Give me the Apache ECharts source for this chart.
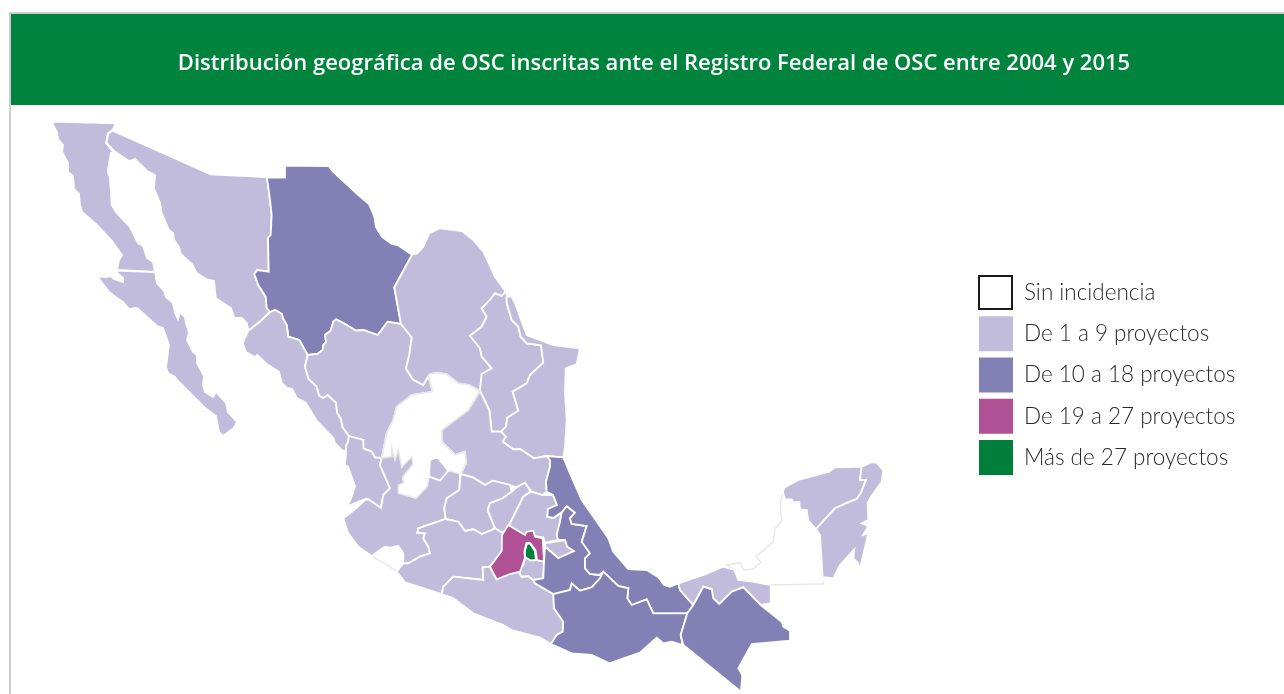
<!DOCTYPE html>
<html>
<head>
<meta charset="utf-8">
<style>
  html, body { margin: 0; padding: 0; background: #fff; }
  #mapa { width: 1284px; height: 694px; }
</style>
<script src="https://cdn.jsdelivr.net/npm/echarts@6/dist/echarts.min.js"></script>
</head>
<body>
<div id="mapa"></div>
<script>
const titleText = 'Distribución geográfica de OSC inscritas ante el Registro Federal de OSC entre 2004 y 2015'

const legendLabels = ['Sin incidencia', 'De 1 a 9 proyectos', 'De 10 a 18 proyectos', 'De 19 a 27 proyectos', 'Más de 27 proyectos']
const legendColors = ['#ffffff', '#c1bcdc', '#8380b6', '#b05196', '#007f3b']

// nivel = posicion en la leyenda. el orden pinta de abajo hacia arriba
const stateNames = [
  'Campeche', 'Colima', 'Baja California', 'Baja California Sur', 'Sonora', 'Chihuahua', 'Sinaloa',
  'Durango', 'Coahuila', 'Nuevo León', 'Tamaulipas', 'San Luis Potosí', 'Nayarit', 'Jalisco', 'Zacatecas', 'Aguascalientes',
  'Guanajuato', 'Querétaro', 'Hidalgo', 'Michoacán', 'Guerrero', 'Morelos', 'Tlaxcala', 'Puebla', 'Veracruz',
  'Oaxaca', 'Tabasco', 'Chiapas', 'Yucatán', 'Quintana Roo', 'Estado de México', 'Ciudad de México'
]
const stateLevels = [0, 0, 1, 1, 1, 2, 1, 1, 1, 1, 1, 1, 1, 1, 0, 1, 1, 1, 1, 1, 1, 1, 1, 2, 2, 2, 1, 2, 1, 1, 3, 4]

// contornos de cada estado, en pixeles de la imagen
const stateShapes = [
  '782.7,491.7 780,506.7 781.7,520.7 775,529 773.3,541.7 756,556.7 760.7,562.3 753.3,569 744,570 740,562.7 726.7,565 734.3,570 738.3,580 753.3,581.7 770.7,585 823.3,584 823.3,580 822.3,573.3 820,535 816,529 808.3,520.7 806.7,510 800,509.3 799.3,501.7 793.3,502.7 791.7,499.3 785,499.3',
  '371.7,556 385,546.7 390,547.7 398.3,546 403.3,553.3 403.3,563.3 396.7,571.7 390,566.7',
  '52.7,121.7 116,123.3 112.7,130 108,133 106,143 114,153 111,153 107.7,171.7 110,178 111.7,205 116.7,213 130,227 138,243 143,246 147,258 153,262 155,272 117,270 119,260 122,255 112,241 97,225 82,212 80,205 79,194 74,189 73,176 68,172 68,163 62,152 63,145 58,139 57,132 53,125',
  '155,272 157,283 164,291 166,297 173,303 175,313 178,319 180,312 185,317 186,323 189,333 187,340 193,352 197,355 197,363 204,376 203,385 205,392 213,397 216,392 226,403 228,412 237,422 234,428 223,436 219,432 216,416 205,408 177,380 175,377 168,373 166,367 169,345 163,328 157,326 137,308 129,309 123,302 117,298 109,292 97,276 105,277 111,276 114,279 123,282 123,278 117,273 117,270.7',
  '112.7,130.7 210.7,174.3 266.7,177 267.7,182.7 270,200 271.7,215 270.7,235 268,238 268.7,271.7 257.3,270 254.3,274 258.3,285 265.7,296.7 266.7,308 270,312 260,321.7 248.3,330.7 246.7,323 241.7,318 234.3,318 231,308 223,303 215.7,298 214,281 206,279 196.7,273 192,264 180.7,254 179,247 174,240 173,233 169,230 161.7,213 160,203 154,188 155,175 146.7,170.7 135,159 129,161 115,151.7 106.7,143 108,134',
  '285,165.7 328.7,166 333,171.7 358.3,195 369,204 374.3,216.7 376,227 382,237 391.7,244 397.7,245 412,254.7 394.3,287.3 401,324 387.7,321.7 377.7,335 363.3,330 356,330.7 345,324 336,319.3 333.3,321.7 330.7,330.7 325,335 326,341.7 323.3,345 322.7,350 317.3,354 307.7,355 299.3,340 288.3,336.7 286.7,325 282.7,318 282,314 275,310 270,312 266.7,308 265.7,296.7 258.3,285 254.3,274 257.3,270 268.7,271.7 268,238 270.7,235 271.7,215 270,200 267.7,182.7 266.7,177.7 285,177.7',
  '270,312 275,310 282,314 282.7,318 286.7,325 288.3,336.7 299.3,340 307.7,355 305,366.7 308.7,379 316.7,386.7 319.3,395.7 323.3,398 327.7,395 336,402.7 337.3,413 341,419 342.7,427.3 349,436 348,442 346,446 346.7,452 341.7,450 335,443 333.3,438 316.7,420.7 305.7,402.7 296.7,398 292.3,389 287.3,388 281.7,383 279,371.7 266.7,364 257.3,355 255,357 246,352 242.7,343 248.3,330.7 260,321.7',
  '307.7,355 317.3,354 322.7,350 323.3,345 326,341.7 325,335 330.7,330.7 333.3,321.7 336,319.3 345,324 356,330.7 363.3,330 377.7,335 387.7,321.7 401,324 411.7,337.3 409.3,355 406,368.3 412.7,379.3 423.3,385 428.3,376 432.7,391.7 411.7,395 396.7,406.7 393.3,420 386.7,433.3 381.7,458 375,457.3 371.7,451.7 363.3,448.3 363.3,440 349,436 342.7,427.3 341,419 337.3,413 336,402.7 327.7,395 323.3,398 319.3,395.7 316.7,386.7 308.7,379 305,366.7',
  '412,254.7 417.3,253.3 423.3,246.7 429.3,233.3 440,228.3 461.7,231 473.3,240 483.3,251.7 495,276.7 505.7,291.7 501.7,296 495,293.3 490,300 481.7,308.3 486.7,316.7 481.7,326.7 470,335.7 480,348.3 481.7,356.7 491.7,368.3 481.7,374 480,391 469.3,385 458.3,383.3 446.7,374.3 436.7,372.7 430,374.3 428.3,376 423.3,385 412.7,379.3 406,368.3 409.3,355 411.7,337.3 401,324 394.3,287.3',
  '505.7,291.7 506.7,294 506.7,303 511.7,320 518.3,326.7 520.7,336.7 526.7,343.3 541,345.3 543.3,362.7 530,375 526.7,383.3 512.7,391.7 518.3,410.7 507.3,417.7 506,426.7 501,431.7 491.7,431.7 489.3,410 480,391 481.7,374 491.7,368.3 481.7,356.7 480,348.3 470,335.7 481.7,326.7 486.7,316.7 481.7,308.3 490,300 495,293.3 501.7,296',
  '506.7,296.7 511.7,296.7 515,303.3 526.7,335 553.3,345 580,348.3 576.7,364 565.7,368.3 565,393.3 566.7,420 565,446.7 563.3,457.3 546.7,456 534,458.3 520,449 513.3,449.3 502.7,441.7 505.7,436.7 501,431.7 506,426.7 507.3,417.7 518.3,410.7 512.7,391.7 526.7,383.3 530,375 543.3,362.7 541,345.3 526.7,343.3 520.7,336.7 518.3,326.7 511.7,320 506.7,303',
  '480,391 489.3,410 491.7,431.7 501,431.7 505.7,436.7 502.7,441.7 513.3,449.3 520,449 534,458.3 546.7,456 550,460 550,466.7 546,481.7 546.7,491.7 542.7,495 531.7,491.7 525,482.7 516.7,487.3 510,485 492.7,480.7 485,485 473.3,477.7 460.7,474 466,463.3 465,451.7 455,455 441.7,441.7 441.7,430 468.3,410',
  '349,436 363.3,440 363.3,448.3 371.7,451.7 375,457.3 381.7,458 380,465 385,476.7 390,488.3 383.3,495 381,508 366.7,498.5 355,503 347.3,506.5 351.7,496.7 355,486 348,466.7 345,465 346,452 346,446 348,442',
  '343.3,518.3 355,509.3 365,500 368.3,499.3 381,508 383.3,495 390,488.3 385,476.7 380,465 381.7,458 395,440 430,440 448,465 460,474 459.3,490 446.7,498.3 444.3,508.3 445.7,519 418.3,528.3 417.3,532.7 425,533.3 423.3,538.3 428.3,546.7 430,553.3 420,556.7 408.3,563.3 403.3,563.3 403.3,553.3 398.3,546 390,547.7 385,546.7 371.7,556 358.3,546.7 348.3,533.3',
  '430,374.3 436.7,372.7 446.7,374.3 458.3,383.3 469.3,385 480,391 468.3,410 441.7,430 441.7,441.7 455,455 465,451.7 466,463.3 460,474 448.3,470.7 437.3,457.3 430,460 429.3,470 429.3,476.7 427.3,486.7 416,498.3 398.3,493.3 398.3,485 403.3,483.3 402.7,476.7 413,464 411.7,456.7 401.7,467.3 398.3,450 395,460 391.7,447.7 391.7,456.7 381.7,458 386.7,433.3 393.3,420 396.7,406.7 411.7,395 432.7,391.7 428.3,376',
  '430,460 437.3,457.3 448.3,470.7 440,480.7 429.3,476.7 429.3,470',
  '460.7,474 473.3,477.7 485,485 492.7,480.7 510,485 511.7,491.7 502.7,498.3 490,503.3 487.7,510 495,528.3 491.7,530 481.7,534 473.3,529.3 465,531 458.3,521.7 445.7,519 444.3,508.3 446.7,498.3 459.3,490',
  '511.7,491.7 516.7,487.3 525,482.7 530.7,491.7 523.3,496.7 515,513.3 509,525 503.3,533.3 495,528.3 487.7,510 490,503.3 502.7,498.3',
  '530.7,491.7 542.7,495 553,495 557,505 548,509 547.3,516.7 553.3,518 561.7,512.3 560,521.7 556.7,535 558.3,540 545,542.7 543.3,537.3 533.3,536 532.7,531.7 526,533.3 525,538.3 509,525 515,513.3 523.3,496.7',
  '396.7,571.7 403.3,563.3 408.3,563.3 420,556.7 430,553.3 428.3,546.7 423.3,538.3 425,533.3 417.3,532.7 418.3,528.3 445.7,519 458.3,521.7 465,531 473.3,529.3 481.7,534 491.7,530 495,528.3 503.3,533.3 501.7,553.3 490,566.7 482.7,567.3 483.3,580 453.3,576.7 443.3,586.7 441.7,594 405,582.3',
  '441.7,594 443.3,586.7 453.3,576.7 483.3,580 482.7,567.3 490,566.7 496.7,579.3 506.7,571.7 518,570.7 521.7,576.7 528.3,576 533.3,580 535,583.3 553.3,594 554,608.3 563.3,621.7 562.7,631.7 556.7,635 551,644 540,637.7 511.7,630 503.3,625 473.3,613.3 453.3,598.3',
  '525,556.7 531.7,560 536.7,560 544,561.7 543.3,578.3 533.3,580 528.3,576 521.7,576.7 518,570.7 523.3,565',
  '545,543.3 565,540 567.3,546.7 574,551 558.3,558.3 545,546.7',
  '561.7,512.3 566.7,506 575,512.7 570,518.3 571.7,524 586.7,526 581.7,541.7 590,553.3 585,558.3 585,568.3 590,574 599.3,575 603.3,571.7 600,578.3 591.7,587.3 580,590.7 571.7,583.3 570,590 555,594 553.3,594 535,583.3 533.3,580 543.3,578.3 544,561.7 545,546.7 558.3,558.3 574,551 567.3,546.7 565,540 558.3,540 556.7,535 560,521.7',
  '550,460 546.7,456 563.3,457.3 570,473.3 581.7,500 608.3,538.3 613.3,551.7 628.3,569 646.7,570 658.3,577.3 664,585 670,586.7 678.3,583.3 680,590 693.3,605 687.3,613.3 653.3,613.3 646.7,599.3 631.7,605 627.3,598.3 628.3,588.3 618.3,586 603.3,571.7 599.3,575 590,574 585,568.3 585,558.3 590,553.3 581.7,541.7 586.7,526 571.7,524 570,518.3 575,512.7 566.7,506 561.7,512.3 553.3,518 547.3,516.7 548,509 557,505 553,495 546.7,491.7 546,481.7 550,466.7',
  '553.3,594 570,590 571.7,583.3 580,590.7 591.7,587.3 600,578.3 603.3,571.7 618.3,586 628.3,588.3 627.3,598.3 631.7,605 646.7,599.3 653.3,613.3 687.3,613.3 680.7,635 682.7,645 671.7,641.7 663.3,643.3 656.7,637.7 640,652.7 609.3,663.3 591.7,655 571.7,653.3 551,644 556.7,635 562.7,631.7 563.3,621.7 554,608.3',
  '678.3,583.3 705,574.3 723.3,566.7 734.3,570 738.3,580 753.3,581.7 770.7,585 770.7,603.3 760.7,605 743.3,587.3 731.7,591.7 719.3,604 713.3,598.3 711.7,589.3 703.3,586.7 693.3,605 680,590',
  '693.3,605 703.3,586.7 711.7,589.3 713.3,598.3 719.3,604 731.7,591.7 743.3,587.3 760.7,605 781.7,621.7 783.3,626.7 790,630.7 790,640.7 751.7,644 738.3,668.3 742.3,675 741,691.7 683.3,645 680.7,635 687.3,613.3',
  '782.7,491.7 785,487.3 798.3,480 829.3,471.7 835,467.3 861.7,466.7 860,480 866,480 860.7,493.3 856.7,499 850,501.7 835,508.3 816,529 808.3,520.7 806.7,510 800,509.3 799.3,501.7 793.3,502.7 791.7,499.3 785,499.3',
  '861.7,466.7 871.7,462.3 876.7,462.7 883.3,470.7 881.7,481.7 870,498.3 867.7,503.3 868.3,520 861.7,523.3 868.3,526 863.3,535 868.3,533.3 859.3,571.7 858.3,563.3 853.3,558.3 854.3,549.3 840,565 833.3,578.3 825,577.3 823.3,580 822.3,573.3 820,535 816,529 835,508.3 850,501.7 856.7,499 860.7,493.3 866,480 860,480',
  '508.3,525 525,535 526.7,531.7 533.3,530.7 535,536.7 542.7,538.3 544,561.7 537,560 535.5,550 530,543 526.5,543 524.5,551 525,558 520,571.7 510,574 496.7,579.3 490,566.7 501.7,551 502,535',
  '527,543.5 530,543.5 535,551 536,560 530.5,560.5 525,557 524.8,551'
]

// el alto de la imagen: geojson cuenta y hacia arriba
const imageHeight = 694

const mexico = {
  type: 'FeatureCollection',
  features: stateNames.map((name, i) => ({
    type: 'Feature',
    properties: { name: name },
    geometry: {
      type: 'Polygon',
      coordinates: [(() => {
        const ring = stateShapes[i].split(' ').map(p => {
          const xy = p.split(',').map(Number)
          return [xy[0], imageHeight - xy[1]]
        })
        ring.push(ring[0])
        return ring
      })()]
    }
  }))
}
echarts.registerMap('mexico', mexico)

const chart = echarts.init(document.getElementById('mapa'))

chart.setOption({
  animation: false,
  backgroundColor: '#ffffff',
  title: {
    text: titleText,
    left: 654,
    top: 53,
    textAlign: 'center',
    padding: 0,
    textStyle: { color: '#ffffff', fontFamily: 'Open Sans', fontSize: 22, fontWeight: 600 },
    z: 10
  },
  visualMap: {
    type: 'piecewise',
    seriesIndex: 0,
    orient: 'vertical',
    inverse: true,
    align: 'left',
    left: 979,
    top: 275,
    padding: 0,
    itemWidth: 34,
    itemHeight: 35,
    itemGap: 6.25,
    textGap: 11,
    itemSymbol: 'rect',
    selectedMode: false,
    showLabel: true,
    textStyle: { color: '#2a2a2a', fontFamily: 'Lato', fontSize: 22.5, fontWeight: 300 },
    pieces: legendLabels.map((label, i) => ({ value: i, label: label, color: legendColors[i] }))
  },
  graphic: [
    { type: 'rect', z: 0, silent: true, shape: { x: 9, y: 12, width: 1275, height: 682 }, style: { fill: '#cccccc' } },
    { type: 'rect', z: 0, silent: true, shape: { x: 11, y: 14, width: 1273, height: 680 }, style: { fill: '#ffffff' } },
    { type: 'rect', z: 0, silent: true, shape: { x: 11, y: 14, width: 1273, height: 91 }, style: { fill: '#00843d' } },
    { type: 'rect', z: 20, silent: true, shape: { x: 979, y: 276, width: 33, height: 33 }, style: { fill: 'none', stroke: '#1a1a1a', lineWidth: 2 } }
  ],
  series: [{
    type: 'map',
    map: 'mexico',
    z: 5,
    silent: true,
    selectedMode: false,
    roam: false,
    aspectScale: 1,
    boundingCoords: [[0, imageHeight], [1284, 0]],
    left: 0,
    top: 0,
    width: 1284,
    height: 694,
    label: { show: false },
    emphasis: { disabled: true },
    itemStyle: { borderColor: '#ffffff', borderWidth: 1.8 },
    data: stateNames.map((name, i) => {
      const item = { name: name, value: stateLevels[i] }
      // los estados sin incidencia llevan un filo gris, si no se pierden en el fondo
      if (stateLevels[i] === 0) item.itemStyle = { borderColor: '#e8e8e8', borderWidth: 1.5 }
      // la capital lleva un halo blanco mas grueso
      if (stateLevels[i] === 4) item.itemStyle = { borderColor: '#ffffff', borderWidth: 2 }
      return item
    })
  }]
})
</script>
</body>
</html>
